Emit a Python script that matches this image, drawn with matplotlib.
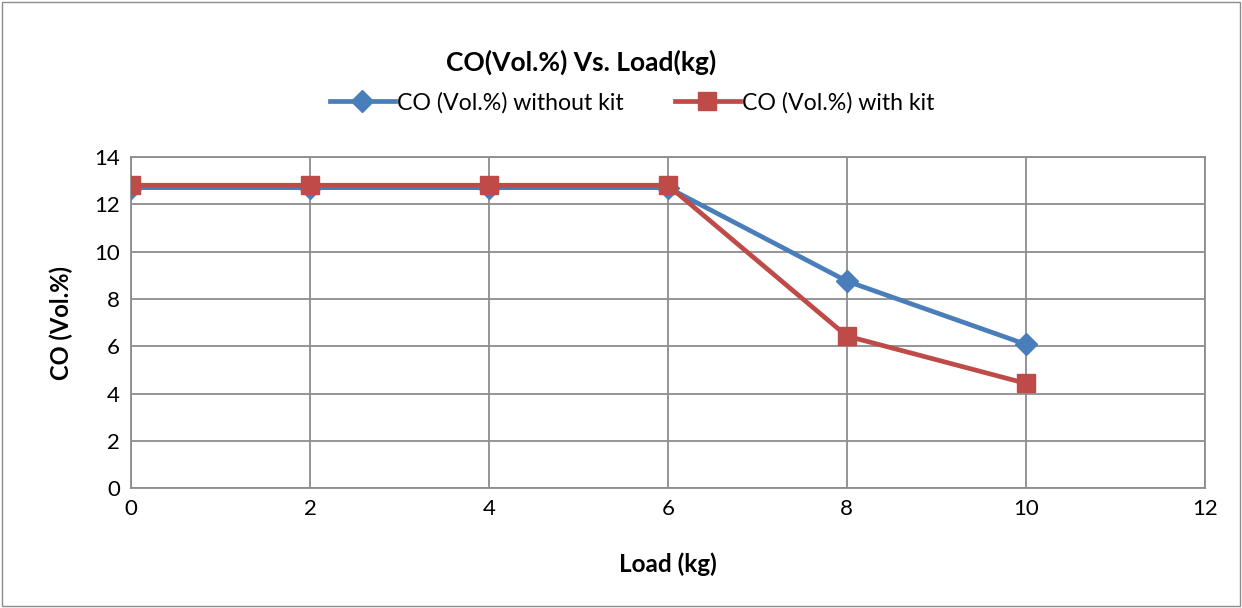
import matplotlib.pyplot as plt
from matplotlib.patches import Rectangle

load = [0, 2, 4, 6, 8, 10]
co_without = [12.7, 12.7, 12.7, 12.7, 8.75, 6.08]
co_with = [12.8, 12.8, 12.8, 12.8, 6.43, 4.43]

plt.rcParams['font.family'] = ['Lato', 'DejaVu Sans']

fig = plt.figure(figsize=(12.42, 6.08), dpi=100)
ax = fig.add_axes([0.1055, 0.197, 0.8645, 0.545])

ax.plot(load, co_without, color='#4a7ebb', lw=3.4, marker='D', ms=11,
        label='CO (Vol.%) without kit', zorder=3)
ax.plot(load, co_with, color='#be4b48', lw=3.4, marker='s', ms=13,
        label='CO (Vol.%) with kit', zorder=4)

ax.set_xlim(0, 12)
ax.set_ylim(0, 14)
ax.set_xticks(range(0, 13, 2))
ax.set_yticks(range(0, 15, 2))
ax.grid(True, color='#8c8c8c', lw=1.3)
ax.set_axisbelow(True)
for s in ax.spines.values():
    s.set_color('#8c8c8c')
    s.set_linewidth(1.3)
ax.tick_params(length=0, labelsize=16, pad=8)

ax.set_xlabel('Load (kg)', fontsize=17.5, fontweight='bold', labelpad=24)
ax.set_ylabel('CO (Vol.%)', fontsize=17, fontweight='bold', labelpad=15)

fig.text(0.468, 0.898, 'CO(Vol.%) Vs. Load(kg)', fontsize=19, fontweight='bold',
         ha='center', va='center')
ax.legend(loc='center', bbox_to_anchor=(0.509, 0.831), bbox_transform=fig.transFigure,
          ncol=2, frameon=False, fontsize=16.7, handlelength=2.8, handletextpad=0.1,
          columnspacing=2.2)

fig.patches.append(Rectangle((0.002, 0.003), 0.996, 0.994, transform=fig.transFigure,
                             fill=False, edgecolor='#8c8c8c', lw=1))

fig.savefig('out.png', dpi=100)
